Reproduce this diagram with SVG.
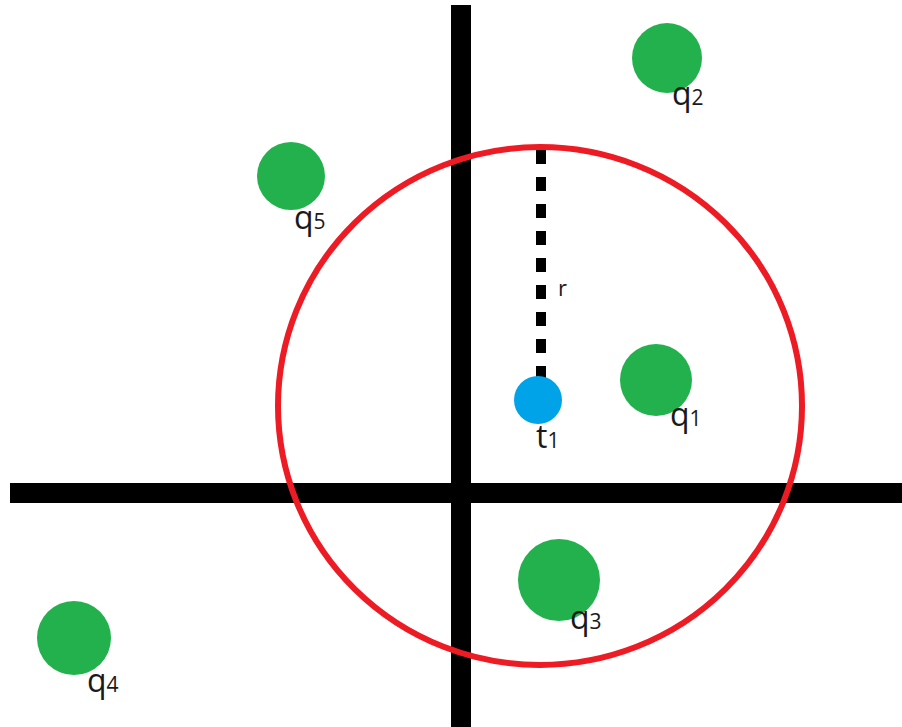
<svg xmlns="http://www.w3.org/2000/svg" width="902" height="727" viewBox="0 0 902 727">
<style>
.pt{fill:#22b14c}
.lbl{font-family:"Open Sans","Liberation Sans",sans-serif;font-size:32px;fill:#1a1a1a}
.sub{font-size:21px}
.axis{stroke:#000;stroke-width:20}
</style>
<rect width="902" height="727" fill="#fff"/>
<g id="connectors">
<line class="axis" x1="461" y1="5" x2="461" y2="727"/>
<line class="axis" x1="10" y1="493" x2="902" y2="493"/>
<ellipse cx="540" cy="406" rx="262" ry="259" fill="none" stroke="#ed1c24" stroke-width="6"/>
<line x1="541" y1="150" x2="541" y2="385" stroke="#000" stroke-width="10" stroke-dasharray="14 13"/>
<text class="lbl" x="558" y="296" style="font-size:22px">r</text>
</g>
<g id="t1"><circle cx="538" cy="400" r="24" fill="#00a2e8"/><text class="lbl" x="536" y="448">t<tspan class="sub">1</tspan></text></g>
<g id="q1"><circle class="pt" cx="656" cy="380" r="36"/><text class="lbl" x="670" y="426">q<tspan class="sub">1</tspan></text></g>
<g id="q2"><circle class="pt" cx="667" cy="58" r="35"/><text class="lbl" x="672" y="105">q<tspan class="sub">2</tspan></text></g>
<g id="q3"><circle class="pt" cx="559" cy="580" r="41"/><text class="lbl" x="570" y="629">q<tspan class="sub">3</tspan></text></g>
<g id="q4"><circle class="pt" cx="74" cy="638" r="37"/><text class="lbl" x="87" y="692">q<tspan class="sub">4</tspan></text></g>
<g id="q5"><circle class="pt" cx="291" cy="176" r="34"/><text class="lbl" x="294" y="229">q<tspan class="sub">5</tspan></text></g>
</svg>
